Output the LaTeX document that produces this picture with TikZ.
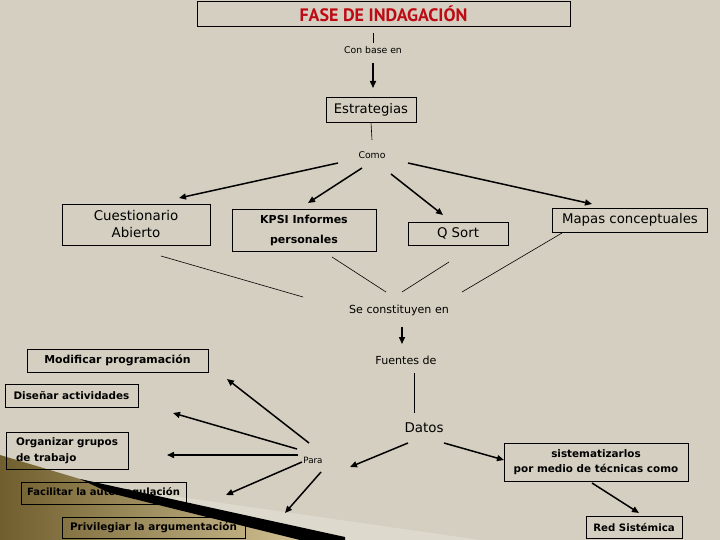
\documentclass[tikz,border=0pt]{standalone}
\usepackage{fontspec}
\setmainfont{DejaVu Sans}
\newfontfamily\titlefont{PT Sans}
\usetikzlibrary{arrows.meta}
\definecolor{slide}{RGB}{212,207,192}
\definecolor{titlered}{RGB}{190,10,20}
\definecolor{golddark}{RGB}{112,94,46}
\definecolor{goldlight}{RGB}{208,192,146}
\newcommand{\fs}[2]{\fontsize{#1}{#2}\selectfont}
\tikzset{
  arr/.style={line width=1.5pt, -{Triangle[length=7pt,width=6pt]}},
  link/.style={line width=0.6pt},
  box/.style={draw, line width=0.8pt, inner sep=2pt, align=center},
  lbox/.style={box, align=left, font=\bfseries\fs{10.4}{16}},
  lbl/.style={inner sep=1pt, font=\fs{9.3}{10}},
  mid/.style={inner sep=1pt, font=\fs{11.1}{13}}
}

\begin{document}
\begin{tikzpicture}[x=1pt,y=-1pt]
  \useasboundingbox[fill=slide] (0,0) rectangle (720,540);
  % corner of the slide
  \fill[white, opacity=0.22] (110,487) -- (345,537) -- (345,540) -- (480,540) -- cycle;
  \shade[left color=golddark, right color=goldlight] (0,455) -- (80,479) -- (300,540) -- (0,540) -- cycle;

  % top part
  \node[box, minimum width=373pt, minimum height=25pt, text=titlered,
        font=\titlefont\bfseries\fs{18}{20}] (title) at (383.5,13.5) {FASE DE INDAGACIÓN};
  \node[lbl] (conbase) at (373,50) {Con base en};
  \node[box, minimum width=90pt, minimum height=25pt, font=\fs{13.2}{15}] (estr) at (371,109.5) {Estrategias};
  \node[lbl] (como) at (372,155) {Como};

  \node[box, minimum width=148pt, minimum height=41pt, font=\fs{13.4}{17}] (cuest) at (136,224.5) {Cuestionario\\Abierto};
  \node[box, minimum width=144pt, minimum height=42pt, font=\bfseries\fs{11}{20}] (kpsi) at (304,230) {KPSI Informes\\personales};
  \node[box, minimum width=100pt, minimum height=23pt, font=\fs{13.3}{15}] (qsort) at (458,233.5) {Q Sort};
  \node[box, minimum width=155pt, minimum height=24pt, font=\fs{13.3}{15}] (mapas) at (630,220) {Mapas conceptuales};

  % middle part
  \node[mid] (se) at (399,310) {Se constituyen en};
  \node[mid] (fuentes) at (406,360) {Fuentes de};
  \node[inner sep=1pt, font=\fs{13.4}{16}] (datos) at (424,428) {Datos};
  \node[lbl, font=\fs{8.7}{10}] (para) at (313,460) {Para};

  % left boxes
  \node[lbox, minimum width=181pt, minimum height=23pt, font=\bfseries\fs{10.9}{14}] (modif) at (117.5,360.5) {Modificar programación};
  \node[lbox, minimum width=133pt, minimum height=23pt] (disen) at (71.5,395.5) {Diseñar actividades};
  \node[lbox, minimum width=122pt, minimum height=37pt] (organ) at (67,450.5) {Organizar grupos\\de trabajo};
  \node[lbox, minimum width=165pt, minimum height=22pt, font=\bfseries\fs{10}{14}] (facil) at (103.5,493) {Facilitar la autorregulación};
  \node[lbox, minimum width=183pt, minimum height=21pt] (priv) at (153.5,527.5) {Privilegiar la argumentación};

  % right boxes
  \node[box, minimum width=184pt, minimum height=38pt, font=\bfseries\fs{10.4}{15}] (sist) at (596,462) {sistematizarlos\\por medio de técnicas como};
  \node[box, minimum width=96pt, minimum height=22pt, font=\bfseries\fs{10.2}{14}] (red) at (634,527) {Red Sistémica};

  % connector ends
  \coordinate (t0) at (373,33);   \coordinate (t1) at (373,63);  \coordinate (t2) at (373,88);
  \coordinate (e0) at (372,140);
  \coordinate (c1) at (338,163);  \coordinate (c1e) at (179,198);
  \coordinate (c2) at (362,168);  \coordinate (c2e) at (308,203);
  \coordinate (c3) at (391,174);  \coordinate (c3e) at (443,215);
  \coordinate (c4) at (408,163);  \coordinate (c4e) at (592,204);
  \coordinate (s1) at (161,256);  \coordinate (s1e) at (303,297);
  \coordinate (s2) at (332,257);  \coordinate (s2e) at (386,292);
  \coordinate (s3) at (449,262);  \coordinate (s3e) at (402,292);
  \coordinate (s4) at (562,233);  \coordinate (s4e) at (462,292);
  \coordinate (f0) at (402,327);  \coordinate (f1) at (402,344);
  \coordinate (f2) at (414,373);  \coordinate (f3) at (414,413);
  \coordinate (d1) at (408,443);  \coordinate (d1e) at (350,467);
  \coordinate (d2) at (444,443);  \coordinate (d2e) at (504,460);
  \coordinate (r0) at (592,483);  \coordinate (r1) at (639,513);
  \coordinate (p1) at (309,443);  \coordinate (p1e) at (227,379);
  \coordinate (p2) at (297,449);  \coordinate (p2e) at (173,413);
  \coordinate (p3) at (298,455);  \coordinate (p3e) at (167,455);
  \coordinate (p4) at (302,462);  \coordinate (p4e) at (226,495);
  \coordinate (p5) at (321,472);  \coordinate (p5e) at (285,513);

  \draw[link] (t0) -- (373,43);
  \draw[arr] (t1) -- (t2);
  \draw[link] (estr.south) -- (e0);
  \foreach \a/\b in {c1/c1e,c2/c2e,c3/c3e,c4/c4e,d1/d1e,d2/d2e,r0/r1,f0/f1,p1/p1e,p2/p2e,p3/p3e,p4/p4e,p5/p5e}
    \draw[arr] (\a) -- (\b);
  \foreach \a/\b in {s1/s1e,s2/s2e,s3/s3e,s4/s4e}
    \draw[link] (\a) -- (\b);
  \draw[line width=0.8pt] (f2) -- (f3);

  % dark band over the corner
  \fill[black] (80,479) -- (345,537) -- (345,540) -- (300,540) -- (110,493) -- cycle;
\end{tikzpicture}
\end{document}
